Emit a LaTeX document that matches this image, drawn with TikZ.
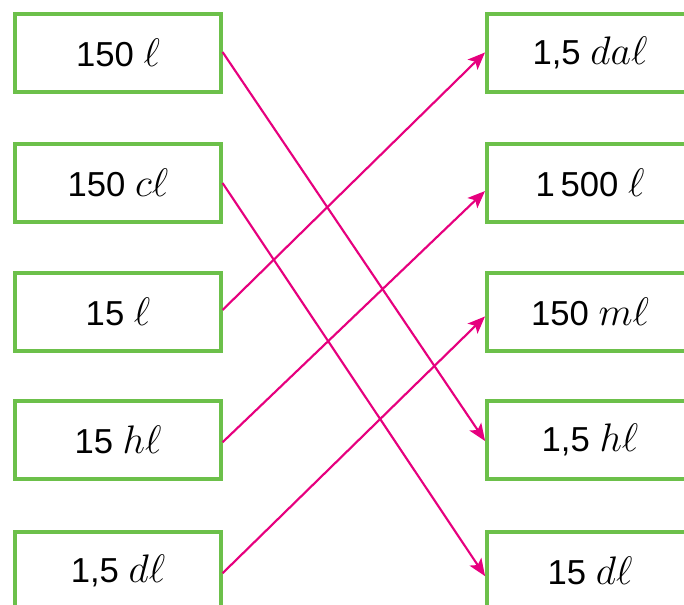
\documentclass[tikz,border=0pt]{standalone}
\usepackage{fontspec}
\setmainfont{Liberation Sans}
\usetikzlibrary{arrows.meta}
\definecolor{boxgreen}{RGB}{108,192,74}
\definecolor{linkpink}{RGB}{230,0,126}
\tikzset{
  box/.style={draw=boxgreen, line width=2.3pt, minimum width=154.5pt, minimum height=58.5pt, inner sep=0pt, font=\fontsize{26}{30}\selectfont},
  link/.style={draw=linkpink, line width=1.6pt, -{Stealth[length=13pt,width=10.5pt,inset=3pt]}, shorten >=0.5pt}
}
\newcommand{\un}[1]{\scalebox{1.2}{$#1$}}
\begin{document}
\begin{tikzpicture}[x=0.75pt,y=-0.75pt]
\useasboundingbox (0,0) rectangle (684,605);
\clip (0,0) rectangle (684,605);
\node[box] (l1) at (118,53) {150 \un{\ell}};
\node[box] (l2) at (118,183) {150 \un{c\ell}};
\node[box] (l3) at (118,312) {15 \un{\ell}};
\node[box] (l4) at (118,440) {15 \un{h\ell}};
\node[box] (l5) at (118,571) {1,5 \un{d\ell}};
\node[box] (r1) at (590,53) {1,5 \un{da\ell}};
\node[box] (r2) at (590,183) {1\,500 \un{\ell}};
\node[box] (r3) at (590,312) {150 \un{m\ell}};
\node[box] (r4) at (590,440) {1,5 \un{h\ell}};
\node[box] (r5) at (590,571) {15 \un{d\ell}};
\draw[link] ([yshift=0.75pt]l1.east) -- ([yshift=-1.2pt]r4.west);
\draw[link] (l2.east) -- ([yshift=-4.3pt]r5.west);
\draw[link] ([yshift=1.5pt]l3.east) -- ([yshift=0.75pt]r1.west);
\draw[link] ([yshift=-1.7pt]l4.east) -- ([yshift=-5.7pt]r2.west);
\draw[link] ([yshift=-1.7pt]l5.east) -- ([yshift=-3pt]r3.west);
\end{tikzpicture}
\end{document}
